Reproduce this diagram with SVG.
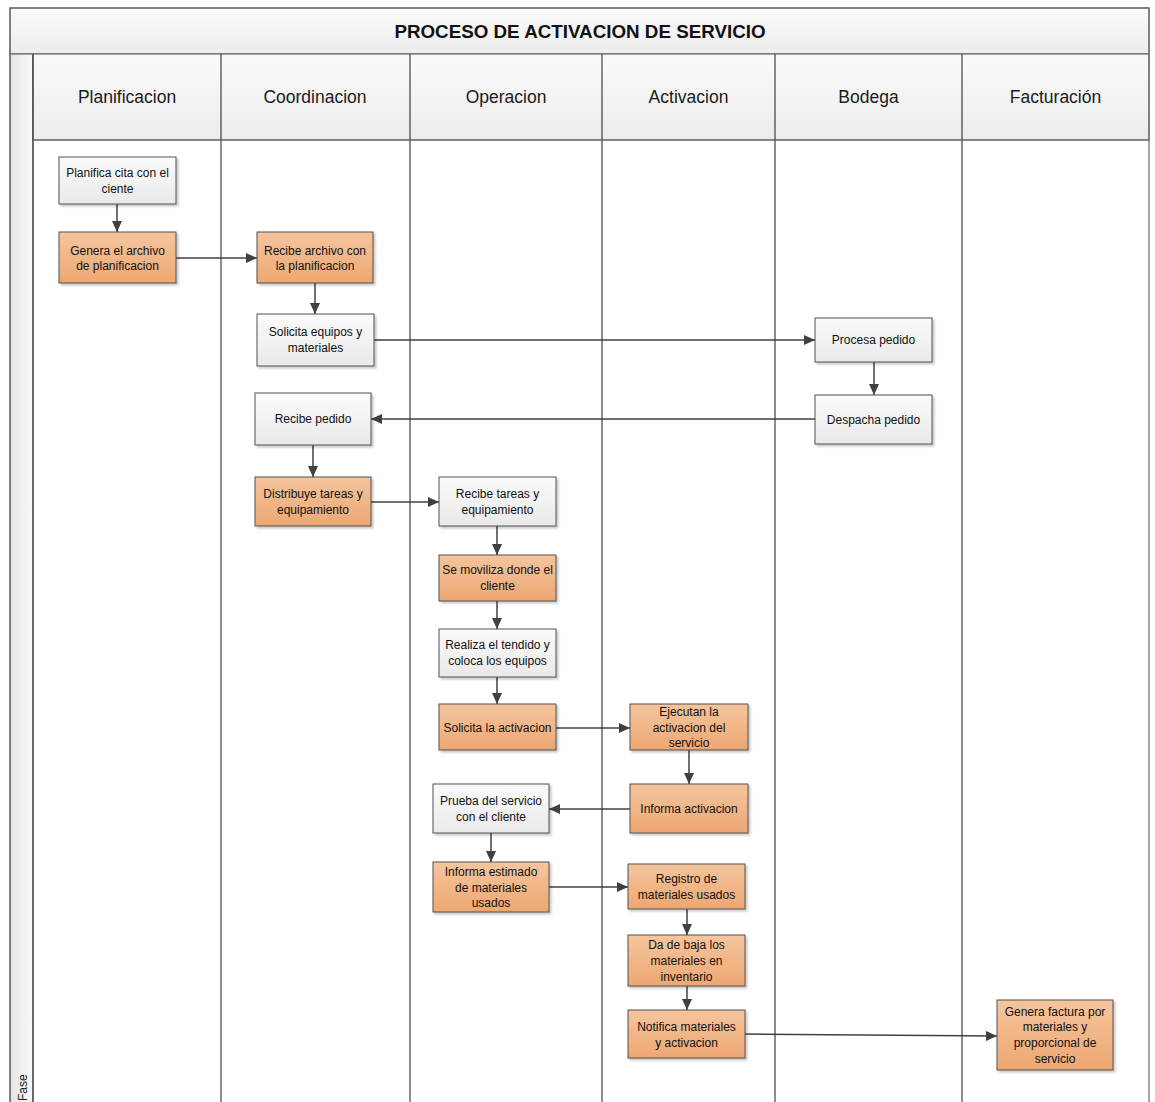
<svg xmlns="http://www.w3.org/2000/svg" width="1155" height="1102" viewBox="0 0 1155 1102">
<style>
.lane{stroke:#3f3f3f;stroke-width:1.2;fill:none}
.hdr{font-family:"Liberation Sans",Arial,sans-serif;font-size:17.5px;fill:#1a1a1a;text-anchor:middle}
.ttl{font-family:"Liberation Sans",Arial,sans-serif;font-size:18.8px;font-weight:bold;fill:#111;text-anchor:middle}
.t{font-family:"Liberation Sans",Arial,sans-serif;font-size:12px;fill:#111;text-anchor:middle}
.w{fill:url(#gw);stroke:#505050;stroke-width:1;filter:url(#sh)}
.o{fill:url(#go);stroke:#505050;stroke-width:1;filter:url(#sh)}
.c{stroke:#404040;stroke-width:1.5;fill:none;marker-end:url(#ah)}
</style>
<defs>
<linearGradient id="gw" x1="0" y1="0" x2="0" y2="1"><stop offset="0" stop-color="#fbfbfb"/><stop offset="1" stop-color="#e9e9e9"/></linearGradient>
<linearGradient id="go" x1="0" y1="0" x2="0" y2="1"><stop offset="0" stop-color="#f5c59d"/><stop offset="1" stop-color="#eda772"/></linearGradient>
<linearGradient id="gh" x1="0" y1="0" x2="0" y2="1"><stop offset="0" stop-color="#fafafa"/><stop offset="1" stop-color="#ececec"/></linearGradient>
<linearGradient id="gf" x1="0" y1="0" x2="1" y2="0"><stop offset="0" stop-color="#e4e4e4"/><stop offset="1" stop-color="#fafafa"/></linearGradient>
<filter id="sh" x="-10%" y="-10%" width="130%" height="130%"><feDropShadow dx="2" dy="2" stdDeviation="0.8" flood-color="#000" flood-opacity="0.22"/></filter>
<marker id="ah" markerUnits="userSpaceOnUse" markerWidth="12" markerHeight="10" refX="11" refY="5" orient="auto"><path d="M0,0 L11,5 L0,10 z" fill="#404040"/></marker>
</defs>
<rect x="0" y="0" width="1155" height="1102" fill="#fff"/>
<g id="pool">
<rect x="10" y="8" width="1139" height="46" fill="url(#gh)" stroke="#6a6a6a" stroke-width="1.2"/>
<text class="ttl" x="580" y="38">PROCESO DE ACTIVACION DE SERVICIO</text>
<rect x="10" y="54" width="23" height="1060" fill="url(#gf)" stroke="#6a6a6a" stroke-width="1.2"/>
<text font-family="'Liberation Sans',Arial,sans-serif" font-size="12" fill="#222" transform="translate(27,1101) rotate(-90)">Fase</text>
<rect x="33" y="54" width="1116" height="86" fill="url(#gh)" stroke="#6a6a6a" stroke-width="1.2"/>
<rect x="10" y="8" width="1139" height="1106" fill="none" stroke="#6a6a6a" stroke-width="1.2"/>
</g>
<g id="lanes">
<line class="lane" x1="33" y1="54" x2="33" y2="1102"/>
<line class="lane" x1="221" y1="54" x2="221" y2="1102"/>
<line class="lane" x1="410" y1="54" x2="410" y2="1102"/>
<line class="lane" x1="602" y1="54" x2="602" y2="1102"/>
<line class="lane" x1="775" y1="54" x2="775" y2="1102"/>
<line class="lane" x1="962" y1="54" x2="962" y2="1102"/>
<line x1="33" y1="140" x2="1149" y2="140" stroke="#6a6a6a" stroke-width="1.2"/>
<text class="hdr" x="127" y="103">Planificacion</text>
<text class="hdr" x="315" y="103">Coordinacion</text>
<text class="hdr" x="506" y="103">Operacion</text>
<text class="hdr" x="688.5" y="103">Activacion</text>
<text class="hdr" x="868.5" y="103">Bodega</text>
<text class="hdr" x="1055.5" y="103">Facturación</text>
</g>
<g id="connectors">
<line class="c" x1="117" y1="204" x2="117" y2="232"/>
<line class="c" x1="176" y1="258" x2="257" y2="258"/>
<line class="c" x1="315" y1="283" x2="315" y2="314"/>
<line class="c" x1="374" y1="340" x2="815" y2="340"/>
<line class="c" x1="874" y1="362" x2="874" y2="395"/>
<line class="c" x1="815" y1="419" x2="371" y2="419"/>
<line class="c" x1="313" y1="445" x2="313" y2="477"/>
<line class="c" x1="371" y1="502" x2="439" y2="502"/>
<line class="c" x1="497" y1="526" x2="497" y2="555"/>
<line class="c" x1="497" y1="601" x2="497" y2="629"/>
<line class="c" x1="497" y1="677" x2="497" y2="704"/>
<line class="c" x1="556" y1="728" x2="630" y2="728"/>
<line class="c" x1="689" y1="750" x2="689" y2="784"/>
<line class="c" x1="630" y1="809" x2="549" y2="809"/>
<line class="c" x1="491" y1="833" x2="491" y2="862"/>
<line class="c" x1="549" y1="887" x2="628" y2="887"/>
<line class="c" x1="687" y1="909" x2="687" y2="935"/>
<line class="c" x1="687" y1="986" x2="687" y2="1010"/>
<line class="c" x1="745" y1="1034" x2="997" y2="1036"/>
</g>
<g id="n1"><rect class="w" x="59" y="157" width="117" height="47"/><text class="t" x="117.5" y="177">Planifica cita con el</text><text class="t" x="117.5" y="193">ciente</text></g>
<g id="n2"><rect class="o" x="59" y="232" width="117" height="51"/><text class="t" x="117.5" y="255">Genera el archivo</text><text class="t" x="117.5" y="270">de planificacion</text></g>
<g id="n3"><rect class="o" x="257" y="232" width="116" height="51"/><text class="t" x="315" y="255">Recibe archivo con</text><text class="t" x="315" y="270">la planificacion</text></g>
<g id="n4"><rect class="w" x="257" y="314" width="117" height="52"/><text class="t" x="315.5" y="336">Solicita equipos y</text><text class="t" x="315.5" y="352">materiales</text></g>
<g id="n5"><rect class="w" x="815" y="318" width="117" height="44"/><text class="t" x="873.5" y="344">Procesa pedido</text></g>
<g id="n6"><rect class="w" x="815" y="395" width="117" height="49"/><text class="t" x="873.5" y="424">Despacha pedido</text></g>
<g id="n7"><rect class="w" x="255" y="393" width="116" height="52"/><text class="t" x="313" y="423">Recibe pedido</text></g>
<g id="n8"><rect class="o" x="255" y="477" width="116" height="49"/><text class="t" x="313" y="498">Distribuye tareas y</text><text class="t" x="313" y="514">equipamiento</text></g>
<g id="n9"><rect class="w" x="439" y="477" width="117" height="49"/><text class="t" x="497.5" y="498">Recibe tareas y</text><text class="t" x="497.5" y="514">equipamiento</text></g>
<g id="n10"><rect class="o" x="439" y="555" width="117" height="46"/><text class="t" x="497.5" y="574">Se moviliza donde el</text><text class="t" x="497.5" y="590">cliente</text></g>
<g id="n11"><rect class="w" x="439" y="629" width="117" height="48"/><text class="t" x="497.5" y="649">Realiza el tendido y</text><text class="t" x="497.5" y="665">coloca los equipos</text></g>
<g id="n12"><rect class="o" x="439" y="704" width="117" height="46"/><text class="t" x="497.5" y="732">Solicita la activacion</text></g>
<g id="n13"><rect class="o" x="630" y="704" width="118" height="46"/><text class="t" x="689" y="716">Ejecutan la</text><text class="t" x="689" y="732">activacion del</text><text class="t" x="689" y="747">servicio</text></g>
<g id="n14"><rect class="o" x="630" y="784" width="118" height="49"/><text class="t" x="689" y="813">Informa activacion</text></g>
<g id="n15"><rect class="w" x="433" y="784" width="116" height="49"/><text class="t" x="491" y="805">Prueba del servicio</text><text class="t" x="491" y="821">con el cliente</text></g>
<g id="n16"><rect class="o" x="433" y="862" width="116" height="50"/><text class="t" x="491" y="876">Informa estimado</text><text class="t" x="491" y="892">de materiales</text><text class="t" x="491" y="907">usados</text></g>
<g id="n17"><rect class="o" x="628" y="864" width="117" height="45"/><text class="t" x="686.5" y="883">Registro de</text><text class="t" x="686.5" y="899">materiales usados</text></g>
<g id="n18"><rect class="o" x="628" y="935" width="117" height="51"/><text class="t" x="686.5" y="949">Da de baja los</text><text class="t" x="686.5" y="965">materiales en</text><text class="t" x="686.5" y="981">inventario</text></g>
<g id="n19"><rect class="o" x="628" y="1010" width="117" height="48"/><text class="t" x="686.5" y="1031">Notifica materiales</text><text class="t" x="686.5" y="1047">y activacion</text></g>
<g id="n20"><rect class="o" x="997" y="1000" width="116" height="70"/><text class="t" x="1055" y="1016">Genera factura por</text><text class="t" x="1055" y="1031">materiales y</text><text class="t" x="1055" y="1047">proporcional de</text><text class="t" x="1055" y="1063">servicio</text></g>
</svg>
